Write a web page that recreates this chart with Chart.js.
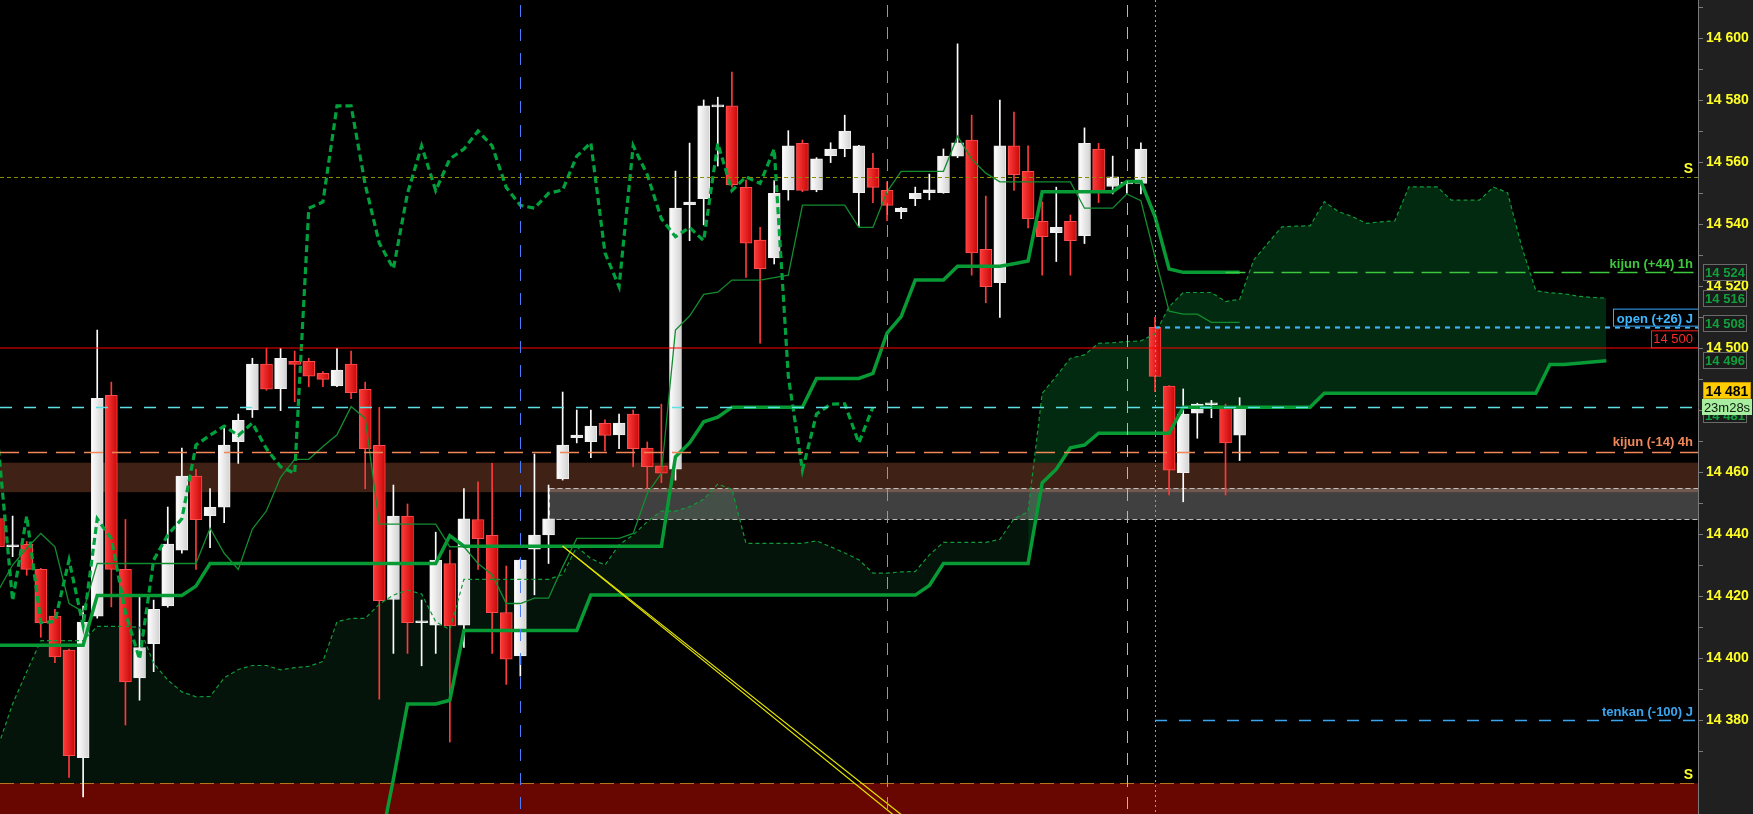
<!DOCTYPE html>
<html><head><meta charset="utf-8">
<script src="https://cdn.jsdelivr.net/npm/chart.js"></script>
<style>html,body{margin:0;padding:0;background:#000;overflow:hidden}canvas{display:block}</style>
</head><body>
<canvas id="c" width="1753" height="814"></canvas>
<script>
// ---- candle data (index 0..88) ----
const opens  = [14445.1,14436.0,14436.8,14428.7,14413.6,14402.7,14368.0,14413.6,14484.8,14428.7,14393.7,14404.7,14416.9,14434.9,14458.8,14446.0,14448.8,14469.9,14480.1,14494.9,14487.0,14495.8,14495.8,14491.9,14487.9,14494.9,14486.8,14468.7,14419.0,14445.9,14411.5,14410.7,14430.6,14410.7,14444.8,14439.7,14414.8,14400.8,14435.2,14439.8,14457.9,14471.2,14469.9,14475.8,14472.1,14478.8,14467.8,14462.1,14461.0,14546.3,14548.3,14577.9,14578.2,14551.9,14534.9,14529.2,14551.1,14566.1,14551.1,14562.1,14564.4,14550.2,14558.1,14551.0,14544.1,14548.3,14550.2,14550.2,14562.0,14567.2,14531.9,14521.2,14565.3,14557.1,14541.0,14537.3,14541.0,14536.3,14564.3,14552.2,14553.0,14553.2,14506.8,14487.8,14459.9,14479.1,14481.8,14480.6,14472.0];
const highs  = [14448.0,14445.9,14437.7,14429.0,14415.8,14403.0,14416.9,14505.9,14489.1,14444.8,14419.9,14418.8,14448.8,14467.8,14461.0,14454.8,14474.2,14478.8,14496.8,14500.0,14500.0,14499.1,14496.8,14492.5,14500.0,14499.1,14489.1,14481.0,14455.9,14449.8,14418.8,14440.7,14434.9,14454.8,14456.9,14462.9,14429.8,14432.0,14465.9,14455.9,14485.9,14480.1,14480.1,14476.9,14478.8,14480.1,14469.8,14482.0,14557.2,14566.2,14580.1,14581.0,14589.1,14554.3,14539.0,14554.1,14570.2,14567.2,14561.5,14566.3,14575.2,14565.5,14562.9,14553.7,14545.5,14552.0,14556.2,14564.3,14598.2,14575.2,14549.1,14580.1,14576.2,14565.3,14547.2,14552.0,14543.0,14571.1,14566.1,14562.0,14554.0,14566.3,14510.0,14488.0,14486.9,14482.3,14483.2,14482.0,14484.1];
const lows   = [14433.0,14432.8,14426.8,14406.8,14398.6,14361.6,14355.3,14413.0,14416.6,14378.5,14386.5,14395.7,14416.5,14433.9,14428.7,14435.7,14443.8,14462.9,14477.7,14486.5,14479.9,14482.8,14487.6,14487.6,14487.6,14483.8,14454.7,14386.8,14401.6,14401.6,14397.6,14401.6,14373.0,14403.5,14428.7,14401.6,14391.6,14394.3,14420.5,14430.6,14457.5,14469.5,14464.7,14466.9,14467.6,14461.8,14454.8,14456.7,14457.5,14534.7,14539.8,14558.8,14552.0,14522.9,14501.7,14527.2,14547.8,14550.5,14550.5,14559.9,14561.8,14539.2,14547.0,14541.2,14541.8,14546.0,14547.9,14550.0,14561.5,14523.6,14514.7,14510.0,14550.9,14538.8,14523.6,14528.0,14523.6,14533.8,14547.0,14549.8,14550.0,14549.8,14486.0,14452.7,14450.5,14471.0,14477.6,14452.7,14463.8];
const closes = [14436.0,14436.6,14428.7,14411.5,14400.5,14368.6,14411.7,14483.9,14428.7,14392.4,14403.5,14415.8,14436.9,14458.8,14444.7,14448.7,14468.8,14476.8,14494.9,14486.8,14496.8,14494.8,14491.0,14490.0,14493.0,14485.7,14467.6,14418.6,14445.9,14411.5,14411.9,14431.7,14410.5,14445.0,14438.6,14414.7,14399.7,14431.7,14439.8,14445.0,14468.8,14472.0,14474.9,14471.9,14475.9,14467.6,14461.8,14459.7,14545.2,14547.2,14578.2,14578.2,14552.8,14533.9,14525.7,14550.0,14565.3,14550.9,14561.1,14564.3,14570.1,14565.3,14551.9,14546.1,14545.2,14550.0,14551.1,14562.0,14566.3,14530.8,14519.9,14565.3,14556.0,14541.8,14536.0,14539.0,14534.7,14566.1,14550.9,14555.3,14553.2,14564.3,14490.9,14460.7,14478.8,14482.0,14482.1,14469.5,14481.0];

// ---- ichimoku lines ----
const tenkan = [14422.0,14430.1,14435.5,14440.3,14436.0,14417.7,14415.0,14430.6,14430.6,14430.6,14430.6,14430.6,14430.6,14430.6,14430.6,14442.0,14433.9,14428.7,14441.7,14447.6,14458.4,14464.2,14464.2,14468.3,14472.1,14481.2,14477.4,14443.3,14443.3,14443.3,14443.3,14443.3,14436.0,14436.0,14430.6,14427.0,14417.7,14417.7,14419.4,14419.4,14429.5,14438.7,14438.7,14438.7,14438.7,14440.3,14453.2,14459.7,14505.9,14510.4,14517.4,14518.1,14522.0,14522.0,14522.0,14522.8,14523.6,14546.2,14546.2,14546.2,14546.2,14539.0,14539.0,14550.5,14557.1,14557.1,14557.1,14557.1,14568.4,14561.0,14556.5,14553.7,14553.7,14553.7,14553.7,14553.7,14553.7,14545.2,14545.2,14545.2,14549.8,14547.6,14529.5,14512.0,14511.0,14511.0,14508.4,14508.4,14508.4];
const kijun = [14404.2,14404.2,14404.2,14404.2,14404.2,14404.2,14404.2,14420.3,14420.3,14420.3,14420.3,14420.3,14420.3,14420.3,14423.3,14430.6,14430.6,14430.6,14430.6,14430.6,14430.6,14430.6,14430.6,14430.6,14430.6,14430.6,14430.6,14430.6,14430.6,14430.6,14430.6,14430.6,14439.6,14436.2,14436.2,14436.2,14436.2,14436.2,14436.2,14436.2,14436.2,14436.2,14436.2,14436.2,14436.2,14436.2,14436.2,14436.2,14465.0,14469.5,14476.3,14477.8,14481.0,14481.0,14481.0,14481.0,14481.0,14481.0,14490.3,14490.3,14490.3,14490.3,14491.9,14504.9,14510.2,14522.0,14522.0,14522.0,14526.5,14526.5,14526.5,14526.5,14527.3,14528.2,14550.5,14550.5,14550.5,14550.5,14550.5,14550.5,14553.8,14553.8,14542.5,14525.6,14524.5,14524.5,14524.5,14524.5,14524.5];
// index 0..114 (cloud projected 26 bars ahead)
const senkouA = [14372.0,14385.3,14395.7,14405.7,14405.7,14405.7,14405.7,14410.3,14410.3,14410.3,14410.0,14398.4,14393.0,14389.2,14387.6,14387.7,14393.7,14396.4,14397.7,14397.7,14396.3,14397.0,14397.4,14399.0,14411.8,14412.9,14412.9,14417.5,14420.4,14422.0,14420.8,14411.8,14409.3,14425.5,14425.5,14425.5,14425.5,14425.5,14425.5,14425.5,14427.0,14436.0,14432.2,14430.1,14436.6,14439.8,14444.1,14447.5,14447.5,14448.9,14451.3,14456.2,14454.5,14437.1,14437.1,14437.1,14437.1,14437.1,14437.9,14436.0,14434.0,14431.8,14427.5,14427.5,14427.9,14428.0,14433.4,14437.4,14437.4,14437.4,14437.4,14438.4,14445.0,14447.3,14485.5,14491.0,14496.8,14497.9,14501.6,14501.8,14502.2,14502.4,14504.7,14513.4,14518.0,14518.0,14518.0,14515.1,14515.8,14528.5,14533.9,14539.2,14539.4,14539.5,14547.3,14544.1,14542.5,14540.3,14540.8,14541.1,14552.1,14552.1,14552.1,14547.8,14547.8,14547.8,14552.0,14550.2,14532.8,14518.6,14517.9,14517.6,14516.8,14516.4,14516.2];
const senkouB = [14330,14330,14330,14330,14330,14330,14330,14330,14330,14330,14330,14330,14330,14330,14330,14330,14330,14330,14330,14330,14330,14330,14330,14330,14330,14330,14330,14338,14361,14385.3,14385.3,14385.3,14386.5,14409.0,14409.0,14409.0,14409.0,14409.0,14409.0,14409.0,14409.0,14409.0,14420.4,14420.4,14420.4,14420.4,14420.4,14420.4,14420.4,14420.4,14420.4,14420.4,14420.4,14420.4,14420.4,14420.4,14420.4,14420.4,14420.4,14420.4,14420.4,14420.4,14420.4,14420.4,14420.4,14420.4,14423.5,14430.6,14430.6,14430.6,14430.6,14430.6,14430.6,14430.6,14456.6,14461.0,14467.9,14468.8,14472.6,14472.6,14472.6,14472.6,14472.6,14472.6,14481.0,14481.0,14481.0,14481.0,14481.0,14481.0,14481.0,14481.0,14481.0,14481.0,14485.5,14485.5,14485.5,14485.5,14485.5,14485.5,14485.5,14485.5,14485.5,14485.5,14485.5,14485.5,14485.5,14485.5,14485.5,14485.5,14494.8,14494.8,14495.2,14495.6,14496.0];
const chikouShift = 26;
const cloudSplit = 73;

// ---- trend line (bar index, value) ----
const trendIdx = [40, 70];
const trendA = [14436.2, 14328.0];
const trendB = [14436.2, 14325.3];

// ---- levels ----
const priceLevel = 14481;
const priceText = '14 481';
const countdownText = '23m28s';
const roundLevel = 14500;
const supportS = 14555.2;
const bottomZoneTop = 14359.7;
const kijun4h = 14466.6;
const kijun1h = 14524.5, kijun1hStart = 87;
const openJ = 14507.0, openJStart = 82;
const tenkanJ = 14380.0, tenkanJStart = 82;
const brownZone = [14453.6, 14463.1];
const grayZone = [14444.8, 14454.8], grayStart = 39;
const vBlue = 37, vMagenta = 63, vOrange = 80, vNow = 82;
const axisBoxes = [[14524.5,'14 524'],[14516.3,'14 516'],[14508.3,'14 508'],[14496.2,'14 496']];
const lowestLabel = 14370;

const FONT = '"Liberation Sans", Arial, sans-serif';
const idx = closes.map((_, i) => i);
const pts = (arr, from, to) => arr.slice(from, to + 1).map((v, k) => ({x: from + k, y: v}));
const fmt = v => String(Math.round(v)).replace(/\B(?=(\d{3})+(?!\d))/g, ' ');

function bodyFill(ctx) {
  const i = ctx.dataIndex;
  const up = closes[i] >= opens[i];
  const sx = ctx.chart.scales && ctx.chart.scales.x;
  const x = sx ? sx.getPixelForValue(i) : NaN;
  if (!isFinite(x)) return up ? '#f2f2f2' : '#e81818';
  const g = ctx.chart.ctx.createLinearGradient(x - 6, 0, x + 6, 0);
  if (up) { g.addColorStop(0, '#ffffff'); g.addColorStop(1, '#d2d2d2'); }
  else { g.addColorStop(0, '#ff3c3c'); g.addColorStop(1, '#c80808'); }
  return g;
}

function hline(c, y, x0, x1, color, w, dash) {
  c.save(); c.beginPath(); c.setLineDash(dash || []); c.strokeStyle = color; c.lineWidth = w;
  c.moveTo(x0, y); c.lineTo(x1, y); c.stroke(); c.restore();
}
function vline(c, x, y0, y1, color, w, dash) {
  c.save(); c.beginPath(); c.setLineDash(dash || []); c.strokeStyle = color; c.lineWidth = w;
  c.moveTo(x, y0); c.lineTo(x, y1); c.stroke(); c.restore();
}
function txt(c, s, x, y, color, font, align) {
  c.save(); c.font = font; c.fillStyle = color; c.textAlign = align || 'right'; c.textBaseline = 'alphabetic';
  c.fillText(s, x, y); c.restore();
}

const deco = {
  id: 'deco',
  beforeDraw(chart) {
    const c = chart.ctx, a = chart.chartArea;
    c.save(); c.fillStyle = '#000'; c.fillRect(0, 0, chart.width, chart.height);
    c.fillStyle = '#202020'; c.fillRect(a.right, 0, chart.width - a.right, chart.height); c.restore();
  },
  beforeDatasetDraw(chart, args) {
    if (chart.data.datasets[args.index].id !== 'wicks') return;
    const c = chart.ctx, a = chart.chartArea, y = chart.scales.y, x = chart.scales.x;
    c.save();
    c.beginPath(); c.rect(a.left, a.top, a.right - a.left, a.bottom - a.top); c.clip();
    const b0 = y.getPixelForValue(brownZone[1]), b1 = y.getPixelForValue(brownZone[0]);
    c.fillStyle = 'rgba(75,39,24,0.86)'; c.fillRect(a.left, b0, a.right - a.left, b1 - b0);
    const g0 = y.getPixelForValue(grayZone[1]), g1 = y.getPixelForValue(grayZone[0]);
    const gx = x.getPixelForValue(grayStart);
    c.fillStyle = 'rgba(255,255,255,0.25)'; c.fillRect(gx, g0, a.right - gx, g1 - g0);
    c.setLineDash([5, 3]); c.strokeStyle = 'rgba(205,205,205,0.9)'; c.lineWidth = 1;
    c.strokeRect(Math.round(gx) + 0.5, Math.round(g0) + 0.5, a.right - gx + 5, Math.round(g1 - g0));
    const r0 = y.getPixelForValue(bottomZoneTop);
    c.setLineDash([]); c.fillStyle = 'rgb(104,6,2)'; c.fillRect(a.left, r0, a.right - a.left, a.bottom - r0);
    hline(c, Math.round(r0) + 0.5, a.left, a.right, '#b8741c', 1, [14, 6]);
    c.restore();
  },
  afterDatasetsDraw(chart) {
    const c = chart.ctx, a = chart.chartArea, y = chart.scales.y, x = chart.scales.x;
    const Y = v => Math.round(y.getPixelForValue(v)) + 0.5;
    c.save();
    c.beginPath(); c.rect(a.left, a.top, a.right - a.left, a.bottom - a.top); c.clip();
    hline(c, Y(supportS), a.left, a.right, '#8c8c00', 1, [4, 3]);
    hline(c, Math.round(y.getPixelForValue(roundLevel)), a.left, a.right, 'rgba(255,0,0,0.5)', 2, []);
    hline(c, Y(priceLevel), a.left, a.right, '#5ce1e6', 1.5, [12, 12]);
    hline(c, Y(kijun4h), a.left, a.right, '#f0885a', 1.3, [19, 9]);
    hline(c, Y(kijun1h), x.getPixelForValue(kijun1hStart), a.right, '#3ec83e', 1.5, [20, 8]);
    hline(c, Y(openJ), x.getPixelForValue(openJStart), a.right, '#3cb4ff', 2.2, [5, 5]);
    hline(c, Y(tenkanJ), x.getPixelForValue(tenkanJStart), a.right, '#3aa6f0', 1.5, [12, 12]);
    vline(c, Math.round(x.getPixelForValue(vBlue)) + 0.5, a.top + 5, a.bottom, '#4a7cff', 1, [12, 12]);
    vline(c, Math.round(x.getPixelForValue(vMagenta)) + 0.5, a.top + 5, a.bottom, '#ff50ff', 1, [12, 10]);
    vline(c, Math.round(x.getPixelForValue(vOrange)) + 0.5, a.top + 5, a.bottom, '#ffb020', 1, [12, 10]);
    vline(c, Math.round(x.getPixelForValue(vNow)) + 0.5, a.top, a.bottom, '#40b8ff', 1, [2, 3]);
    const R = a.right - 5;
    txt(c, 'S', R, y.getPixelForValue(supportS) - 4, '#ffff30', 'bold 14px ' + FONT);
    txt(c, 'S', R, y.getPixelForValue(bottomZoneTop) - 4, '#ffff30', 'bold 14px ' + FONT);
    txt(c, 'kijun (+44) 1h', R, y.getPixelForValue(kijun1h) - 4, '#3ec83e', 'bold 13px ' + FONT);
    txt(c, 'kijun (-14) 4h', R, y.getPixelForValue(kijun4h) - 6, '#f0885a', 'bold 13px ' + FONT);
    txt(c, 'tenkan (-100) J', R, y.getPixelForValue(tenkanJ) - 4, '#3aa6f0', 'bold 13px ' + FONT);
    const oy = y.getPixelForValue(openJ);
    c.fillStyle = '#000'; c.fillRect(a.right - 85, oy - 18, 85, 18);
    c.strokeStyle = '#3aa8ff'; c.lineWidth = 1; c.setLineDash([]);
    c.strokeRect(a.right - 84.5, oy - 17.5, 85, 17);
    txt(c, 'open (+26) J', R, oy - 4, '#40b8ff', 'bold 13px ' + FONT);
    const ry = y.getPixelForValue(roundLevel);
    c.fillStyle = '#000'; c.fillRect(a.right - 47, ry - 18, 47, 17);
    c.strokeStyle = '#ff2020'; c.strokeRect(a.right - 46.5, ry - 17.5, 47, 17);
    txt(c, fmt(roundLevel), R, ry - 5, '#ff2a2a', '13px ' + FONT);
    c.restore();
  },
  afterDraw(chart) {
    const c = chart.ctx, a = chart.chartArea, y = chart.scales.y;
    const bx = a.right + 5;
    c.save();
    axisBoxes.forEach(([v, s]) => {
      const cy = Math.round(y.getPixelForValue(v));
      c.fillStyle = '#1b1b1b'; c.fillRect(bx, cy - 8, 43, 16);
      c.strokeStyle = '#6a6a6a'; c.lineWidth = 1; c.strokeRect(bx + 0.5, cy - 7.5, 43, 16);
      txt(c, s, bx + 22, cy + 5, '#11a03c', 'bold 13px ' + FONT, 'center');
    });
    const py = Math.round(y.getPixelForValue(priceLevel));
    c.fillStyle = '#1b1b1b'; c.fillRect(bx, py - 1, 43, 16);
    c.strokeStyle = '#6a6a6a'; c.strokeRect(bx + 0.5, py - 0.5, 43, 16);
    txt(c, priceText, bx + 22, py + 13, '#11a03c', 'bold 13px ' + FONT, 'center');
    c.fillStyle = '#a8eea0'; c.fillRect(a.right + 4, py - 8, 50, 16);
    txt(c, countdownText, a.right + 29, py + 5, '#0a1a0a', '13px ' + FONT, 'center');
    c.fillStyle = '#ffcc00'; c.fillRect(bx, py - 25, 48, 17);
    c.strokeStyle = '#c89a00'; c.strokeRect(bx + 0.5, py - 24.5, 47, 16);
    txt(c, priceText, bx + 24, py - 11, '#000', 'bold 14px ' + FONT, 'center');
    c.restore();
  }
};

const lineBase = {type: 'line', pointRadius: 0, pointHoverRadius: 0, tension: 0, fill: false};

new Chart(document.getElementById('c'), {
  type: 'bar',
  data: {
    datasets: [
      Object.assign({}, lineBase, {id: 'cloudA1', data: pts(senkouA, 0, cloudSplit), borderWidth: 0, fill: '+1', backgroundColor: 'rgb(4,20,10)', order: 60}),
      Object.assign({}, lineBase, {id: 'cloudB1', data: pts(senkouB, 0, cloudSplit), borderWidth: 0, order: 61}),
      Object.assign({}, lineBase, {id: 'cloudA2', data: pts(senkouA, cloudSplit, senkouA.length - 1), borderWidth: 0, fill: '+1', backgroundColor: 'rgb(2,42,16)', order: 58}),
      Object.assign({}, lineBase, {id: 'cloudB2', data: pts(senkouB, cloudSplit, senkouB.length - 1), borderWidth: 0, order: 59}),
      {type: 'bar', id: 'wicks', data: idx.map(i => ({x: i, y: [lows[i], highs[i]]})), barThickness: 1, grouped: false,
        backgroundColor: idx.map(i => closes[i] >= opens[i] ? '#ffffff' : '#ff3a3a'), borderWidth: 0, order: 31},
      {type: 'bar', id: 'bodies', data: idx.map(i => ({x: i, y: [opens[i], closes[i]]})), barThickness: 12, grouped: false, minBarLength: 2,
        backgroundColor: bodyFill, borderColor: idx.map(i => closes[i] >= opens[i] ? '#efefef' : '#ff4d4d'), borderWidth: 1, borderSkipped: false, order: 30},
      Object.assign({}, lineBase, {id: 'senkouA', data: pts(senkouA, 0, senkouA.length - 1), borderColor: '#109a38', borderWidth: 1.2, borderDash: [4, 3], order: 14}),
      Object.assign({}, lineBase, {id: 'senkouB', data: pts(senkouB, 0, senkouB.length - 1), borderColor: '#079a35', borderWidth: 3.5, order: 13}),
      Object.assign({}, lineBase, {id: 'kijun', data: pts(kijun, 0, kijun.length - 1), borderColor: '#079a35', borderWidth: 3.5, order: 12}),
      Object.assign({}, lineBase, {id: 'tenkan', data: pts(tenkan, 0, tenkan.length - 1), borderColor: '#138c30', borderWidth: 1.3, order: 11}),
      Object.assign({}, lineBase, {id: 'chikou', data: closes.slice(chikouShift).map((v, j) => ({x: j, y: v})), borderColor: '#00a13c', borderWidth: 3.2, borderDash: [7, 4], borderCapStyle: 'butt', order: 10}),
      Object.assign({}, lineBase, {id: 'trendA', data: trendIdx.map((t, k) => ({x: t, y: trendA[k]})), borderColor: '#e6e600', borderWidth: 1.2, order: 9}),
      Object.assign({}, lineBase, {id: 'trendB', data: trendIdx.map((t, k) => ({x: t, y: trendB[k]})), borderColor: '#e6e600', borderWidth: 1.2, order: 9})
    ]
  },
  options: {
    responsive: false, animation: false, devicePixelRatio: 1,
    layout: {padding: 0},
    plugins: {legend: {display: false}, tooltip: {enabled: false}},
    events: [],
    scales: {
      x: {type: 'linear', display: false, min: 0.106, max: 120.5, offset: false},
      y: {
        position: 'right', min: 14349.8, max: 14612.35,
        afterFit(s) { s.width = 55; s.paddingTop = 0; s.paddingBottom = 0; },
        grid: {drawOnChartArea: false, drawTicks: true, tickLength: 5,
          color: ctx => (ctx.tick && ctx.tick.value < lowestLabel ? 'rgba(0,0,0,0)' : '#7a7a7a')},
        border: {display: true, color: '#7a7a7a'},
        ticks: {stepSize: 10, includeBounds: false, autoSkip: false, padding: 3, color: '#ffff26',
          font: {family: FONT, size: 14, weight: 'bold'},
          callback: v => (Math.round(v) % 20 === 0 && v >= lowestLabel ? fmt(v) : '')}
      }
    }
  },
  plugins: [deco]
});
</script>
</body></html>
